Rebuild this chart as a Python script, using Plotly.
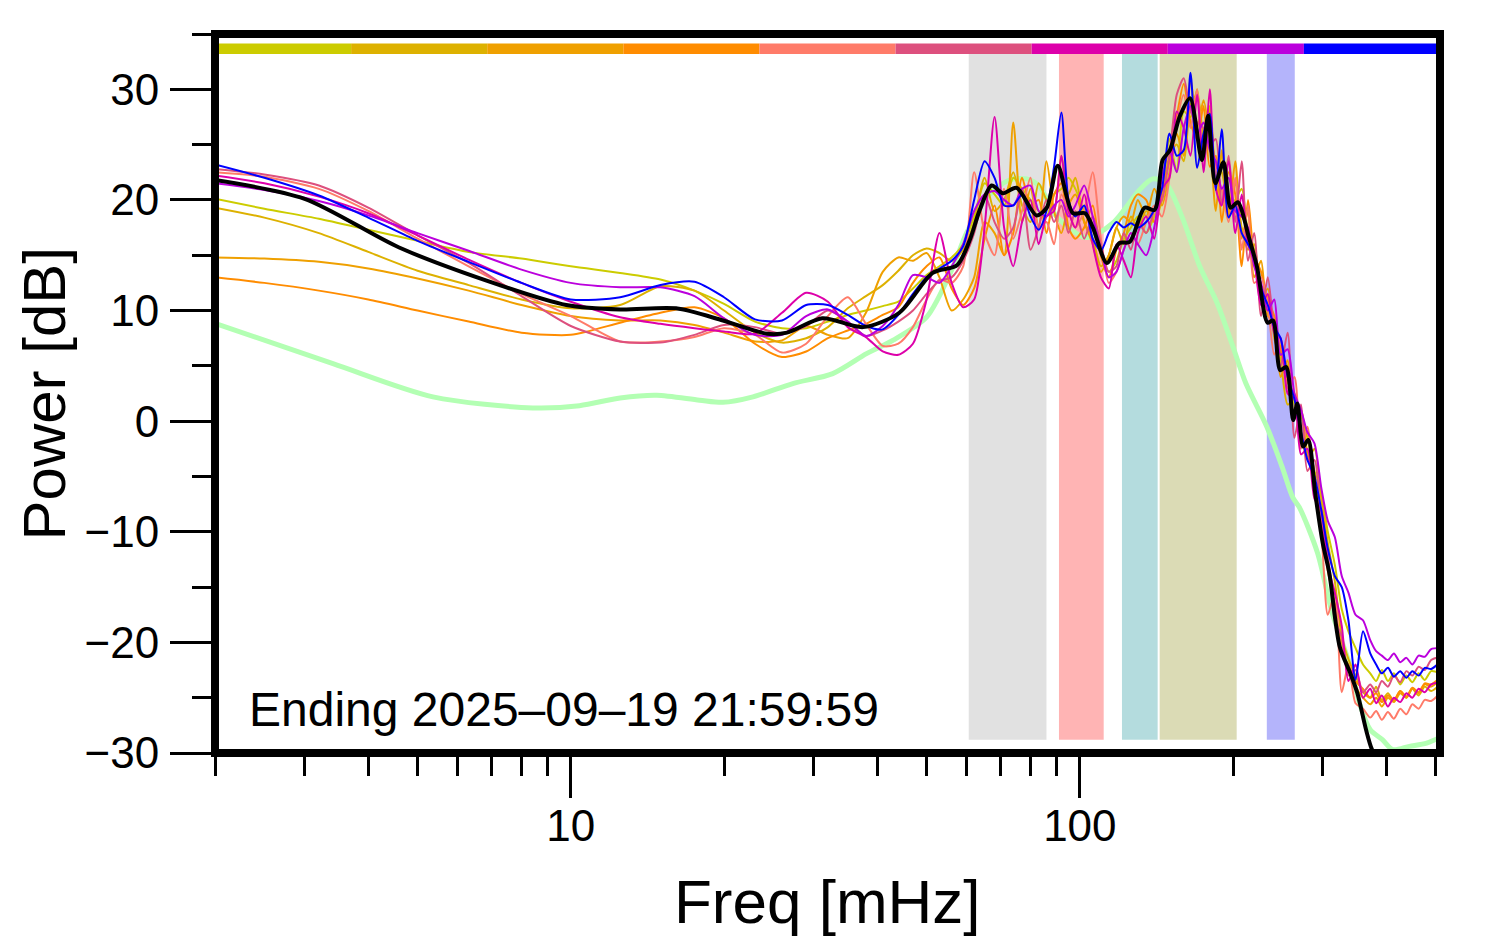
import math
import plotly.graph_objects as go

# ---------------- data ----------------
freq = [2, 2.5, 3.2, 4, 5, 6.3, 8, 10, 12.5, 15,
        17.5, 20, 23, 26, 29, 32, 35, 38, 41, 44,
        47, 50, 53, 56, 59, 62, 65, 68, 71, 74,
        77, 80, 83, 86, 89, 92, 95, 98, 102, 106,
        110, 114, 118, 122, 126, 130, 135, 140, 145, 150,
        155, 160, 165, 170, 175, 180, 185, 190, 196, 202,
        208, 214, 220, 227, 234, 241, 248, 256, 264, 272,
        280, 289, 298, 307, 317, 327, 337, 348, 360, 372,
        382, 392, 403, 414, 426, 438, 450, 463, 476, 490, 510]

p1 = [20.1, 19.2, 18.3, 17.3, 16.3, 15.3, 14.7, 14.0, 13.4, 12.8,
      11.8, 10.6, 9.0, 8.4, 8.4, 9.0, 9.6, 10.0, 10.4, 10.8,
      12.0, 13.2, 14.0, 14.8, 16.0, 18.5, 21.5, 20.5, 19.5, 22.0,
      21.0, 20.0, 19.0, 18.5, 20.5, 21.0, 22.0, 21.0, 19.0, 17.5,
      15.0, 13.5, 14.5, 16.5, 17.5, 18.5, 17.0, 18.5, 20.5, 25.5,
      22.5, 28.0, 27.5, 30.0, 25.0, 28.5, 22.0, 24.0, 19.5, 20.0,
      21.0, 17.0, 15.5, 12.0, 10.5, 8.5, 6.0, 5.0, 1.5, 0.5,
      -1.5, -4.5, -6.5, -10.0, -13.0, -17.0, -19.0, -20.5, -22.0, -22.8,
      -23.5, -22.5, -23.5, -22.8, -23.8, -23.0, -23.6, -22.8, -23.4, -22.6, -22.8]
p2 = [19.3, 18.4, 17.0, 15.3, 13.6, 12.3, 11.0, 10.2, 10.5, 12.2,
      11.8, 10.0, 8.0, 7.1, 7.5, 8.5, 10.2, 11.3, 12.3, 13.6,
      15.0, 15.6, 15.2, 14.5, 15.5, 18.0, 22.0, 19.0, 20.0, 22.5,
      19.5, 18.0, 21.5, 20.0, 19.0, 24.0, 20.5, 22.0, 18.0, 16.5,
      14.0, 15.0, 17.5, 16.0, 18.5, 17.5, 19.0, 18.0, 20.0, 24.0,
      25.0, 23.5, 28.5, 29.5, 26.0, 28.0, 23.0, 22.5, 19.0, 21.5,
      17.5, 15.5, 16.0, 11.0, 12.0, 7.5, 5.5, 1.5, 2.0, -1.0,
      -3.5, -2.5, -7.0, -11.0, -14.5, -19.5, -21.5, -23.0, -24.5, -25.0,
      -24.0, -25.2, -24.6, -25.3, -24.4, -25.0, -24.2, -24.8, -24.0, -24.4, -23.8]
p3 = [14.8, 14.7, 14.4, 13.8, 12.9, 11.8, 10.5, 9.5, 9.1, 9.1,
      8.7, 8.0, 7.2, 7.3, 8.6, 7.8, 7.5, 9.8, 13.5, 14.8,
      14.5, 15.2, 13.0, 10.0, 11.0, 13.0, 18.0, 17.0, 15.0, 27.0,
      18.0, 21.0, 17.5, 23.5, 19.0, 17.0, 19.5, 20.5, 18.0, 16.0,
      13.5, 15.0, 17.5, 18.5, 18.0, 20.0, 18.5, 21.0, 19.5, 22.5,
      26.0, 24.0, 31.0, 26.5, 29.0, 25.5, 19.0, 24.5, 18.5, 23.5,
      16.5, 19.0, 13.0, 14.5, 9.5, 9.0, 4.0, 5.5, 0.5, 1.0,
      -3.0, -5.0, -9.5, -12.5, -17.5, -20.0, -22.5, -24.0, -25.0, -25.6,
      -25.0, -25.8, -25.0, -25.4, -24.6, -25.0, -24.2, -24.6, -23.8, -24.0, -23.4]
p4 = [13.0, 12.5, 11.8, 11.0, 10.0, 9.0, 8.0, 7.8, 8.9, 9.8,
      10.3, 9.3, 7.0, 5.8, 6.3, 7.5, 8.2, 8.8, 9.6, 10.3,
      12.5, 14.0, 14.8, 12.0, 10.5, 12.0, 16.5, 19.5, 15.0, 17.0,
      22.0, 19.5, 20.0, 17.0, 20.5, 21.5, 17.5, 16.5, 17.5, 19.5,
      15.0, 13.0, 15.5, 17.0, 19.5, 20.5, 20.0, 18.0, 21.0, 23.5,
      27.5, 30.5, 27.0, 25.5, 28.5, 23.0, 24.0, 18.0, 22.5, 20.5,
      14.0, 20.0, 15.0, 13.5, 11.0, 9.5, 6.5, 3.5, 2.5, -2.0,
      -1.0, -5.5, -8.5, -13.5, -16.5, -21.0, -22.0, -23.5, -24.2, -25.0,
      -24.6, -25.4, -24.8, -25.2, -24.4, -24.9, -24.1, -24.5, -23.7, -23.8, -23.2]
p5 = [22.5, 22.1, 21.0, 19.0, 16.5, 14.0, 11.5, 9.5, 7.2, 7.2,
      7.6, 8.4, 7.8, 6.2, 7.0, 9.5, 11.2, 8.8, 6.8, 7.0,
      8.5, 11.0, 12.8, 12.5, 14.0, 22.5, 17.0, 15.0, 21.0, 16.5,
      19.0, 22.0, 17.5, 18.0, 16.0, 20.5, 19.0, 17.5, 19.0, 22.5,
      16.5, 12.5, 13.5, 15.5, 17.0, 16.0, 18.0, 19.5, 18.5, 22.0,
      27.0, 29.5, 26.5, 30.0, 24.0, 27.0, 22.5, 21.0, 18.0, 22.0,
      15.5, 19.5, 12.5, 13.0, 10.5, 6.0, 7.5, 3.0, 4.0, -2.5,
      -0.5, -6.5, -10.0, -17.5, -15.5, -24.5, -22.0, -25.5, -26.0, -26.8,
      -26.2, -27.0, -26.3, -26.9, -26.0, -26.5, -25.6, -26.0, -25.2, -25.3, -24.6]
p6 = [22.8, 22.3, 21.3, 19.3, 16.8, 14.3, 11.3, 8.6, 7.2, 7.1,
      7.8, 8.7, 8.5, 7.9, 8.6, 10.0, 9.0, 7.7, 8.2, 9.0,
      10.0, 11.5, 12.7, 13.0, 14.5, 17.0, 20.5, 18.0, 16.5, 17.5,
      21.0, 15.5, 17.5, 20.0, 18.0, 19.5, 17.0, 19.0, 16.5, 18.5,
      16.0, 13.5, 14.0, 17.0, 15.5, 18.0, 17.0, 19.0, 20.0, 24.0,
      29.5, 31.0, 28.0, 27.0, 26.5, 25.0, 25.5, 19.5, 24.0, 18.0,
      23.5, 14.5, 17.0, 9.5, 13.0, 8.0, 5.0, 8.0, -1.5, 1.5,
      -4.5, -3.5, -9.0, -12.0, -18.0, -19.5, -23.0, -22.5, -24.5, -23.8,
      -24.5, -23.5, -24.0, -23.0, -23.6, -22.6, -23.0, -22.2, -22.5, -21.6, -21.3]
p7 = [22.2, 21.5, 20.3, 18.8, 16.8, 14.6, 12.5, 10.8, 9.4, 8.8,
      8.4, 8.1, 7.9, 9.8, 11.6, 10.8, 8.5, 7.6, 6.3, 6.0,
      7.0, 11.0, 17.0, 12.5, 10.3, 11.0, 17.5, 27.5, 17.5, 14.0,
      18.0, 20.0, 16.0, 18.5, 19.0, 24.0, 19.0, 17.5, 20.5, 16.0,
      13.0, 12.0, 16.0, 14.5, 13.0, 17.0, 18.5, 16.5, 21.0, 22.0,
      28.0, 26.5, 24.0, 29.5, 22.5, 30.0, 21.0, 19.5, 23.5, 17.0,
      20.5, 16.0, 14.5, 10.5, 11.5, 8.0, 7.5, 2.5, 2.0, -3.0,
      -2.5, -7.0, -8.0, -13.0, -15.5, -18.5, -23.5, -22.0, -25.0, -24.2,
      -25.5, -24.8, -25.8, -25.0, -25.4, -24.6, -25.0, -24.2, -24.5, -23.8, -23.6]
p8 = [21.5, 20.9, 19.9, 18.6, 17.0, 15.4, 13.7, 12.5, 12.1, 12.1,
      11.3, 9.3, 7.8, 7.8, 9.5, 10.1, 9.0, 7.7, 8.6, 10.5,
      13.2, 13.0, 12.5, 14.0, 16.0, 19.0, 20.5, 20.8, 20.0, 19.5,
      21.0, 21.3, 19.0, 18.5, 19.5, 20.0, 18.5, 19.5, 21.3, 18.5,
      15.5, 13.0, 13.5, 15.5, 17.0, 16.0, 15.0, 17.5, 22.0, 24.5,
      22.5, 26.5, 28.5, 26.0, 27.0, 24.5, 23.5, 21.0, 22.0, 19.0,
      18.5, 17.5, 14.0, 12.5, 10.0, 11.0, 6.0, 6.5, 2.5, 1.0,
      -1.0, -2.0, -6.0, -9.0, -10.5, -14.0, -15.5, -17.5, -18.0, -19.8,
      -20.8, -21.2, -21.6, -21.0, -21.8, -21.4, -22.0, -21.2, -21.3, -20.6, -20.5]
p9 = [23.2, 22.0, 20.4, 18.4, 16.3, 14.4, 12.5, 11.0, 11.2, 12.3,
      12.6, 11.2, 9.2, 9.1, 10.5, 10.5, 9.6, 8.6, 8.3, 9.6,
      11.5, 13.0, 13.8, 14.5, 15.8, 20.0, 23.5, 22.0, 19.5, 19.5,
      20.5, 18.5, 17.3, 19.0, 23.0, 27.9, 20.0, 18.5, 19.5, 16.5,
      15.4, 17.0, 18.0, 17.5, 17.9, 17.5, 18.0, 19.1, 21.0, 26.0,
      24.0, 24.5, 31.5, 22.9, 26.0, 27.8, 20.9, 26.4, 18.4, 19.5,
      17.0, 16.0, 15.0, 12.0, 10.5, 8.5, 7.5, 4.0, 2.0, -1.0,
      -3.5, -5.0, -8.0, -11.5, -14.0, -15.0, -18.0, -23.4, -19.0, -21.0,
      -22.0, -22.8, -22.3, -23.1, -22.6, -23.2, -22.6, -23.0, -22.3, -22.4, -21.8]
series = [p1, p2, p3, p4, p5, p6, p7, p8, p9]
series_colors = ["#CCCC00", "#DDB100", "#EFA000", "#FF8C00", "#FF7B69",
                 "#DD507E", "#DD00AA", "#BB00DD", "#0000FF"]

f_mean = [2, 3, 4.6, 7.25, 9.8, 12.5, 16.1, 19.9, 24.3, 26.6,
          31.2, 37.5, 44.2, 51.4, 57.4, 60.7, 63.6, 67.1, 70.6, 75.1,
          82.2, 86.1, 90.5, 96.9, 102.4, 106.1, 113, 119.6, 125.3, 134,
          140.2, 145.4, 150.3, 157, 164.6, 173.7, 178.6, 184.6, 191.5, 197.9,
          204.3, 214.9, 223, 233.8, 239.6, 247.6, 254.4, 262.5, 267.5, 274.6,
          281, 290, 300, 309, 324, 340, 351, 365, 375, 390, 430, 510]
db_mean = [21.8, 20.1, 15.7, 12.3, 10.5, 10.1, 10.2, 9.1, 7.9, 8.0,
           9.3, 8.5, 9.8, 13.4, 14.1, 16.3, 19.1, 21.3, 20.6, 21.1,
           18.6, 19.3, 23.1, 18.8, 18.8, 17.5, 14.3, 16.1, 16.2, 19.3,
           19.1, 23.6, 24.5, 27.5, 29.2, 23.6, 27.6, 21.5, 23.4, 19.3,
           19.8, 16.6, 13.9, 8.9, 9.1, 4.6, 4.9, 0.1, 1.6, -2.3,
           -1.7, -6.5, -11.0, -13.7, -20.4, -22.8, -24.6, -27.9, -29.7, -31.0, -33.0, -34.0]

f_ref = [2, 3.41, 5.36, 8.42, 10.4, 12.5, 14.75, 17.9, 19.9, 22.8,
         27.3, 32.7, 38.1, 42.9, 50, 56.3, 59.9, 66.5, 72.8, 78.7,
         83.4, 90, 103, 116, 131, 139, 147.6, 159, 172, 186,
         200, 212, 233, 250, 262, 270, 293, 313, 340, 356,
         372, 393, 412, 444, 480, 510]
db_ref = [8.85, 5.2, 2.2, 1.2, 1.4, 2.1, 2.35, 1.9, 1.7, 2.2,
          3.4, 4.3, 6.1, 7.3, 9.4, 13.9, 17.0, 20.5, 21.8, 21.9,
          21.2, 18.5, 16.6, 17.9, 20.9, 21.9, 21.5, 18.4, 14.0, 10.7,
          6.7, 3.4, -0.5, -4.2, -6.9, -7.8, -11.9, -17.3, -22.2, -25.8,
          -27.9, -28.8, -29.7, -29.4, -29.1, -28.6]

band_lo = [60.5, 91, 121, 143.5, 233]
band_hi = [86, 111.4, 142.2, 203.3, 264.4]
band_colors = ["#E1E1E1", "#FFB4B4", "#B4DCDE", "#DBDBB5", "#B4B4FB"]

x_min, x_max = 2, 510
y_min, y_max = -30, 35
label_text = "Ending 2025\u201309\u201319 21:59:59"

FONT = "Liberation Sans, Arial, Helvetica, sans-serif"

fig = go.Figure()

# shaded bands
band_bottom, band_top = -28.8, 33.2
for lo, hi, col in zip(band_lo, band_hi, band_colors):
    fig.add_trace(go.Scatter(x=[lo, hi, hi, lo, lo],
                             y=[band_bottom, band_bottom, band_top, band_top, band_bottom],
                             fill="toself", fillcolor=col, mode="lines",
                             line=dict(width=0, color=col), hoverinfo="skip",
                             showlegend=False))

# colour key bar along the top (equal log-width segments)
lx0, lx1 = math.log10(x_min), math.log10(x_max)
nseg = len(series_colors)
for i, col in enumerate(series_colors):
    a = 10 ** (lx0 + (lx1 - lx0) * i / nseg)
    b = 10 ** (lx0 + (lx1 - lx0) * (i + 1) / nseg)
    fig.add_trace(go.Scatter(x=[a, b, b, a, a],
                             y=[33.2, 33.2, 34.15, 34.15, 33.2],
                             fill="toself", fillcolor=col, mode="lines",
                             line=dict(width=0, color=col), hoverinfo="skip",
                             showlegend=False))

# reference (pale green)
fig.add_trace(go.Scatter(x=f_ref, y=db_ref, mode="lines",
                         line=dict(color="#B3FFB3", width=5, shape="spline", smoothing=0.8),
                         showlegend=False))

for vals, col in zip(series, series_colors):
    fig.add_trace(go.Scatter(x=freq, y=vals, mode="lines",
                             line=dict(color=col, width=2, shape="spline", smoothing=0.7),
                             showlegend=False))

fig.add_trace(go.Scatter(x=f_mean, y=db_mean, mode="lines",
                         line=dict(color="black", width=4, shape="spline", smoothing=0.8),
                         showlegend=False))

fig.update_layout(
    width=1486, height=944, autosize=False,
    margin=dict(l=207, r=54, t=26, b=199),
    paper_bgcolor="white", plot_bgcolor="white",
    font=dict(family=FONT, color="black"),
    xaxis=dict(type="log", range=[lx0, lx1],
               tickvals=[10, 100], ticktext=["10", "100"],
               ticks="outside", ticklen=44, tickwidth=3, tickcolor="black",
               tickfont=dict(size=44, family=FONT, color="black"),
               showgrid=False, zeroline=False, showline=False,
               ticklabelstandoff=-10,
               minor=dict(tickvals=[2, 3, 4, 5, 6, 7, 8, 9, 20, 30, 40, 50, 60, 70, 80, 90,
                                    200, 300, 400, 500],
                          ticks="outside", ticklen=22, tickwidth=3, tickcolor="black",
                          showgrid=False)),
    yaxis=dict(range=[y_min, y_max],
               tickvals=[-30, -20, -10, 0, 10, 20, 30],
               ticks="outside", ticklen=44, tickwidth=3, tickcolor="black",
               tickfont=dict(size=44, family=FONT, color="black"),
               showgrid=False, zeroline=False, showline=False,
               ticklabelstandoff=2,
               minor=dict(tickvals=[-25, -15, -5, 5, 15, 25, 35],
                          ticks="outside", ticklen=22, tickwidth=3, tickcolor="black",
                          showgrid=False)),
    shapes=[dict(type="rect", xref="paper", yref="paper", x0=0, x1=1, y0=0, y1=1,
                 line=dict(color="black", width=8), layer="above")],
    annotations=[
        dict(text=label_text, xref="paper", yref="paper", x=0.026, y=0.061,
             xanchor="left", yanchor="middle", showarrow=False,
             font=dict(size=48, family=FONT, color="black")),
        dict(text="Freq [mHz]", xref="paper", yref="paper", x=0.5, y=-0.206,
             xanchor="center", yanchor="middle", showarrow=False,
             font=dict(size=62, family=FONT, color="black")),
        dict(text="Power [dB]", xref="paper", yref="paper", x=-0.1388, y=0.5,
             xanchor="center", yanchor="middle", textangle=-90, showarrow=False,
             font=dict(size=60, family=FONT, color="black")),
    ],
)

fig.write_html("out.html")
